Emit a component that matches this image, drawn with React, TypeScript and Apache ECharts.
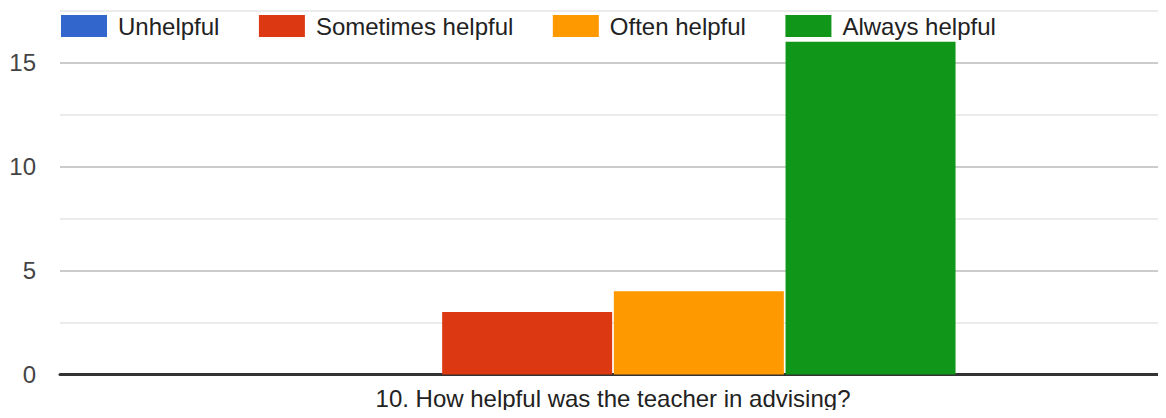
import React, { useEffect, useRef } from "react";
import * as echarts from "echarts";

const categories = ["10. How helpful was the teacher in advising?"];
const seriesNames = ["Unhelpful", "Sometimes helpful", "Often helpful", "Always helpful"];
const seriesValues = [[0], [3], [4], [16]];
const seriesColors = ["#3366cc", "#dc3912", "#ff9900", "#109618"];
const yMin = 0;
const yMax = 17.5;
const yInterval = 2.5;
const yLabelStep = 5;

export default function App() {
  const ref = useRef<HTMLDivElement>(null);
  useEffect(() => {
    if (!ref.current) return;
    const chart = echarts.init(ref.current, null, { renderer: "svg" });
    const font = "Liberation Sans, Arial, sans-serif";
    chart.setOption({
      animation: false,
      textStyle: { fontFamily: font },
      legend: {
        data: seriesNames,
        left: 61,
        top: 14,
        padding: 0,
        icon: "rect",
        itemWidth: 46,
        itemHeight: 22,
        itemGap: 39.5,
        selectedMode: false,
        textStyle: {
          fontFamily: font,
          fontSize: 24,
          color: "#222222",
          lineHeight: 22,
          padding: [0, 0, 0, 6],
        },
      },
      grid: { left: 60, right: 0, top: 10.5, bottom: 43.5, containLabel: false },
      xAxis: {
        type: "category",
        data: categories,
        axisLine: { show: true, lineStyle: { color: "#333333", width: 3 } },
        axisTick: { show: false },
        axisLabel: { fontFamily: font, fontSize: 24, color: "#222222", margin: 12 },
        splitLine: { show: false },
      },
      yAxis: {
        type: "value",
        min: yMin,
        max: yMax,
        interval: yInterval,
        axisLine: { show: false },
        axisTick: { show: false },
        axisLabel: {
          fontFamily: font,
          fontSize: 24,
          color: "#444444",
          margin: 24,
          formatter: (v: number) => (Math.abs(v % yLabelStep) < 1e-9 ? String(v) : ""),
        },
        splitLine: { show: true, lineStyle: { color: ["#cccccc", "#ebebeb"], width: 2 } },
      },
      series: seriesNames.map((name, i) => ({
        name,
        type: "bar",
        data: seriesValues[i],
        barWidth: 170,
        barGap: "1%",
        itemStyle: { color: seriesColors[i] },
      })),
    });
    return () => chart.dispose();
  }, []);
  return <div ref={ref} style={{ width: 1166, height: 418, margin: -8 }} />;
}
